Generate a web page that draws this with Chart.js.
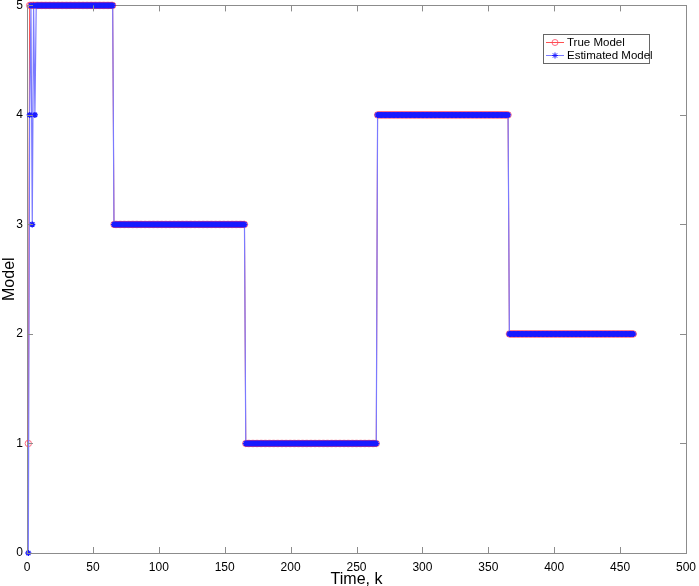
<!DOCTYPE html>
<html>
<head>
<meta charset="utf-8">
<script src="https://cdn.jsdelivr.net/npm/chart.js@4/dist/chart.umd.min.js"></script>
<style>
  html, body { margin: 0; padding: 0; background: #fff; }
  #wrap { width: 699px; height: 586px; }
</style>
</head>
<body>
<div id="wrap"><canvas id="c" width="699" height="586"></canvas></div>
<script>
// model segments: [first k, last k, model]
var trueSegments = [[1, 1, 1], [2, 65, 5], [66, 165, 3], [166, 265, 1], [266, 365, 4], [366, 460, 2]];
var estStart = [0, 4, 5, 3, 5, 4];   // estimated model at k = 1..6
var estSegments = [[7, 65, 5], [66, 165, 3], [166, 265, 1], [266, 365, 4], [366, 460, 2]];
var xTicks = [0, 50, 100, 150, 200, 250, 300, 350, 400, 450, 500];
var yTicks = [0, 1, 2, 3, 4, 5];

function expand(segs) {
    var acc = [];
    segs.forEach(function(s) {
        for (var k = s[0]; k <= s[1]; k++) acc.push({x: k, y: s[2]});
    });
    return acc;
}

var truePts = expand(trueSegments);
var estPts = estStart.map(function(v, i) { return {x: i + 1, y: v}; }).concat(expand(estSegments));

var FONT = 'Helvetica, "Liberation Sans", Arial, sans-serif';

// frame, inward ticks and the legend box
var framePlugin = {
    id: 'frame',
    afterDraw: function(chart) {
        var ctx = chart.ctx, a = chart.chartArea;
        var xs = chart.scales.x, ys = chart.scales.y;
        ctx.save();
        ctx.strokeStyle = '#8c8c8c';
        ctx.lineWidth = 1;
        ctx.beginPath();
        xTicks.forEach(function(t) {
            var px = Math.round(xs.getPixelForValue(t)) + 0.5;
            ctx.moveTo(px, a.bottom); ctx.lineTo(px, a.bottom - 6);
            ctx.moveTo(px, a.top); ctx.lineTo(px, a.top + 6);
        });
        yTicks.forEach(function(t) {
            var py = Math.round(ys.getPixelForValue(t)) + 0.5;
            ctx.moveTo(a.left, py); ctx.lineTo(a.left + 6, py);
            ctx.moveTo(a.right, py); ctx.lineTo(a.right - 6, py);
        });
        ctx.stroke();

        // legend
        var lx = 543, ly = 34, lw = 106, lh = 29;
        ctx.fillStyle = '#fff';
        ctx.fillRect(lx, ly, lw, lh);
        ctx.strokeStyle = '#666';
        ctx.strokeRect(lx + 0.5, ly + 0.5, lw, lh);
        ctx.font = '11.5px ' + FONT;
        ctx.textBaseline = 'middle';
        chart.data.datasets.forEach(function(ds, i) {
            var cy = ly + 8 + i * 13;
            ctx.strokeStyle = ds.borderColor;
            ctx.lineWidth = 1;
            ctx.beginPath();
            ctx.moveTo(lx + 3, cy + 0.5); ctx.lineTo(lx + 21, cy + 0.5);
            ctx.stroke();
            ctx.strokeStyle = ds.pointBorderColor;
            ctx.fillStyle = ds.pointBackgroundColor;
            Chart.helpers.drawPoint(ctx, {pointStyle: ds.pointStyle, radius: 3, borderWidth: 1, rotation: 0}, lx + 12, cy + 0.5);
            ctx.fillStyle = '#000';
            ctx.fillText(ds.label, lx + 24, cy + 1);
        });
        ctx.restore();
    },
    beforeDatasetsDraw: function(chart) {
        var ctx = chart.ctx, a = chart.chartArea;
        ctx.save();
        ctx.strokeStyle = '#8c8c8c';
        ctx.lineWidth = 1;
        ctx.strokeRect(Math.round(a.left) + 0.5, Math.round(a.top) + 0.5,
                       Math.round(a.right - a.left), Math.round(a.bottom - a.top));
        ctx.restore();
    }
};

new Chart(document.getElementById('c').getContext('2d'), {
    type: 'line',
    data: {
        datasets: [
            {label: 'True Model', data: truePts, order: 2, clip: false, borderColor: '#ff5050', borderWidth: 1,
             pointStyle: 'circle', pointRadius: 3.2, pointBorderWidth: 1,
             pointBorderColor: 'rgba(255,60,90,0.75)', pointBackgroundColor: 'rgba(0,0,0,0)'},
            {label: 'Estimated Model', data: estPts, order: 1, clip: false, borderColor: '#7a7aff', borderWidth: 1.2,
             pointStyle: 'star', pointRadius: 3, pointBorderWidth: 1.4,
             pointBorderColor: '#1a1aff', pointBackgroundColor: '#1a1aff'}
        ]
    },
    options: {
        responsive: false,
        animation: false,
        layout: {padding: {top: 5, right: 13, left: 0, bottom: 0}},
        plugins: {legend: {display: false}, tooltip: {enabled: false}},
        scales: {
            x: {
                type: 'linear', min: 0, max: 500,
                afterBuildTicks: function(s) { s.ticks = xTicks.map(function(v) { return {value: v}; }); },
                afterFit: function(s) { s.height = 33; s.paddingLeft = 0; s.paddingRight = 0; },
                grid: {display: false, drawTicks: false},
                border: {display: false},
                ticks: {color: '#000', font: {family: FONT, size: 12}, padding: 7, maxRotation: 0},
                title: {display: true, text: 'Time, k', color: '#000', font: {family: FONT, size: 16}, padding: {top: 0, bottom: -3}}
            },
            y: {
                type: 'linear', min: 0, max: 5,
                afterBuildTicks: function(s) { s.ticks = yTicks.map(function(v) { return {value: v}; }); },
                afterFit: function(s) { s.width = 27; s.paddingTop = 0; s.paddingBottom = 0; },
                grid: {display: false, drawTicks: false},
                border: {display: false},
                ticks: {color: '#000', font: {family: FONT, size: 12}, padding: 4},
                title: {display: true, text: 'Model', color: '#000', font: {family: FONT, size: 16}, padding: {top: 0, bottom: 0}}
            }
        }
    },
    plugins: [framePlugin]
});
</script>
</body>
</html>
